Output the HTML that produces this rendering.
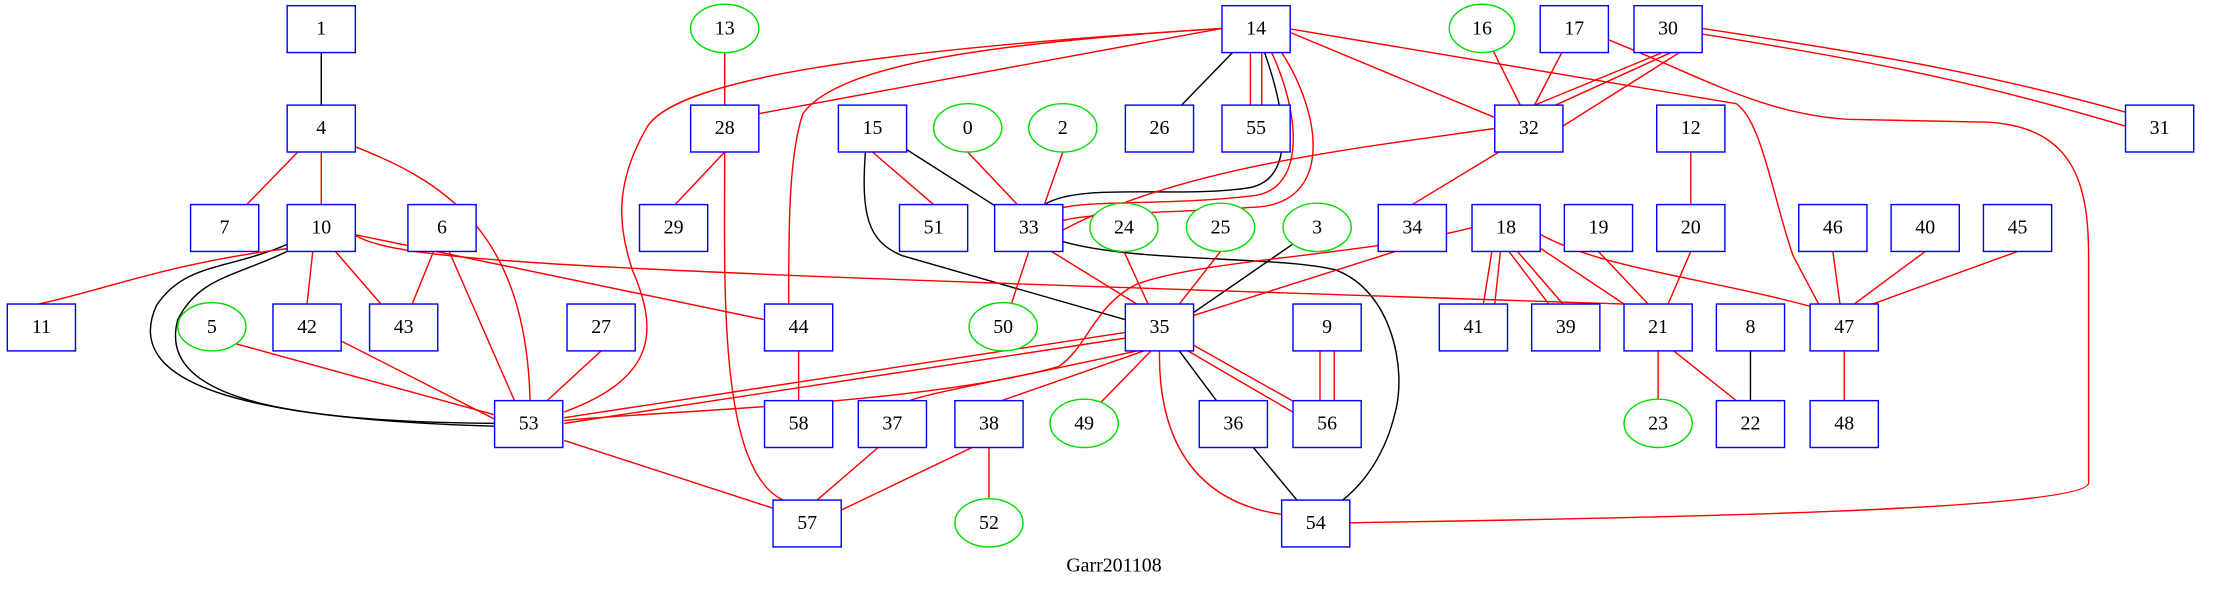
<!DOCTYPE html>
<html><head><meta charset="utf-8"><style>
html,body{margin:0;padding:0;background:#fff;}
svg{display:block}
text{font-family:"Liberation Serif",serif;font-size:14px;fill:#000;text-anchor:middle;dominant-baseline:central}
.b{fill:#fff;stroke:#0000ff;stroke-width:1}
.e{fill:#fff;stroke:#00dd00;stroke-width:1}
.r{fill:none;stroke:#ff0000;stroke-width:1}
.k{fill:none;stroke:#000;stroke-width:1}
</style></head><body>
<svg width="2228" height="591" viewBox="0 0 1568 416" xmlns="http://www.w3.org/2000/svg">
<g class="k">
<path d="M226,20 L226,90"/>
<path d="M884,20 L816,90"/>
<path d="M890,37 C905,80 912,125 880,132 C830,140 760,128 735,144"/>
<path d="M614,90 L724,160"/>
<path d="M609,107 C606,150 610,170 635,180 L792,225"/>
<path d="M748,170 C800,185 900,180 940,190 C980,205 990,260 982,290 C975,320 960,340 945,352"/>
<path d="M927,160 L840,220"/>
<path d="M830,247 L868,298"/>
<path d="M868,298 L926,368"/>
<path d="M1232,230 L1232,298"/>
<path d="M202,172 C160,190 130,185 110,215 C85,270 170,295 348,300"/>
<path d="M204,176 C165,195 140,195 125,225 C110,280 200,297 348,298"/>
</g>
<g class="r">
<path d="M510,20 L510,90"/>
<path d="M226,90 L158,160"/>
<path d="M226,90 L226,160"/>
<path d="M249,103 C320,130 370,170 373,282"/>
<path d="M860,20 L534,80"/>
<path d="M860,20 C620,35 475,55 455,90 C432,130 435,160 445,190 C462,230 465,265 397,290"/>
<path d="M860,20 C700,30 590,45 565,80 C555,110 555,160 555,214"/>
<path d="M880,20 L880,90"/>
<path d="M888,20 L888,90"/>
<path d="M895,37 C915,80 920,135 880,138 C820,145 760,140 742,148"/>
<path d="M902,37 C930,80 940,145 880,146 C820,150 760,150 746,156"/>
<path d="M906,22 L1055,84"/>
<path d="M906,20 L1222,73 C1240,85 1248,140 1262,180 L1280,214"/>
<path d="M1043,20 L1070,74"/>
<path d="M1108,20 L1080,74"/>
<path d="M1170,37 L1080,74"/>
<path d="M1176,37 L1086,78"/>
<path d="M1182,37 L1098,90"/>
<path d="M1198,20 C1330,40 1400,52 1500,80"/>
<path d="M1198,24 C1330,45 1400,60 1500,90"/>
<path d="M1132,28 C1200,55 1240,80 1300,84 L1400,86 C1460,90 1470,130 1470,180 L1470,340 C1470,362 1050,366 950,368"/>
<path d="M510,107 L475,144"/>
<path d="M510,107 C510,200 505,330 551,352"/>
<path d="M614,107 L657,144"/>
<path d="M681,107 L716,144"/>
<path d="M748,107 L735,144"/>
<path d="M1055,90 C950,105 830,118 748,162"/>
<path d="M1055,107 L994,144"/>
<path d="M1190,107 L1190,144"/>
<path d="M202,175 C120,185 70,205 27,214"/>
<path d="M220,177 L216,214"/>
<path d="M236,177 L268,214"/>
<path d="M249,165 L538,225"/>
<path d="M249,165 C280,185 400,190 1143,214"/>
<path d="M305,177 L290,214"/>
<path d="M316,177 L362,282"/>
<path d="M724,177 L712,213"/>
<path d="M740,177 L800,214"/>
<path d="M791,177 L808,214"/>
<path d="M859,177 L830,214"/>
<path d="M982,177 L840,222"/>
<path d="M1037,160 C960,180 850,182 800,200 C770,215 765,245 745,258 C650,285 450,290 397,296"/>
<path d="M1050,177 L1044,214"/>
<path d="M1056,177 L1052,214"/>
<path d="M1062,177 L1090,214"/>
<path d="M1068,177 L1100,214"/>
<path d="M1080,172 L1143,214"/>
<path d="M1084,165 C1130,190 1200,195 1283,218"/>
<path d="M1125,177 L1160,214"/>
<path d="M1190,177 L1174,214"/>
<path d="M1290,177 L1295,214"/>
<path d="M1355,177 L1305,214"/>
<path d="M1420,177 L1318,214"/>
<path d="M1167,247 L1167,281"/>
<path d="M1178,247 L1222,282"/>
<path d="M1298,247 L1298,282"/>
<path d="M166,242 L348,292"/>
<path d="M240,240 L348,295"/>
<path d="M423,247 L385,282"/>
<path d="M562,247 L562,282"/>
<path d="M792,234 L397,294"/>
<path d="M792,238 L397,298"/>
<path d="M800,247 C720,265 660,275 640,282"/>
<path d="M805,247 L705,282"/>
<path d="M810,247 L775,283"/>
<path d="M836,247 L915,293"/>
<path d="M840,243 L920,288"/>
<path d="M816,247 C815,320 850,355 902,362"/>
<path d="M929,247 L929,282"/>
<path d="M939,247 L939,282"/>
<path d="M397,310 L551,360"/>
<path d="M618,315 L575,352"/>
<path d="M684,315 L590,360"/>
<path d="M696,315 L696,351"/>
</g>
<g>
<rect class="b" x="202" y="4" width="48" height="33"/><text x="226" y="20">1</text>
<ellipse class="e" cx="510" cy="20" rx="24" ry="17"/><text x="510" y="20">13</text>
<rect class="b" x="860" y="4" width="48" height="33"/><text x="884" y="20">14</text>
<ellipse class="e" cx="1043" cy="20" rx="23" ry="17"/><text x="1043" y="20">16</text>
<rect class="b" x="1084" y="4" width="48" height="33"/><text x="1108" y="20">17</text>
<rect class="b" x="1150" y="4" width="48" height="33"/><text x="1174" y="20">30</text>

<rect class="b" x="202" y="74" width="48" height="33"/><text x="226" y="90">4</text>
<rect class="b" x="486" y="74" width="48" height="33"/><text x="510" y="90">28</text>
<rect class="b" x="590" y="74" width="48" height="33"/><text x="614" y="90">15</text>
<ellipse class="e" cx="681" cy="90" rx="24" ry="17"/><text x="681" y="90">0</text>
<ellipse class="e" cx="748" cy="90" rx="24" ry="17"/><text x="748" y="90">2</text>
<rect class="b" x="792" y="74" width="48" height="33"/><text x="816" y="90">26</text>
<rect class="b" x="860" y="74" width="48" height="33"/><text x="884" y="90">55</text>
<rect class="b" x="1052" y="74" width="48" height="33"/><text x="1076" y="90">32</text>
<rect class="b" x="1166" y="74" width="48" height="33"/><text x="1190" y="90">12</text>
<rect class="b" x="1496" y="74" width="48" height="33"/><text x="1520" y="90">31</text>

<rect class="b" x="134" y="144" width="48" height="33"/><text x="158" y="160">7</text>
<rect class="b" x="202" y="144" width="48" height="33"/><text x="226" y="160">10</text>
<rect class="b" x="287" y="144" width="48" height="33"/><text x="311" y="160">6</text>
<rect class="b" x="450" y="144" width="48" height="33"/><text x="474" y="160">29</text>
<rect class="b" x="633" y="144" width="48" height="33"/><text x="657" y="160">51</text>
<rect class="b" x="700" y="144" width="48" height="33"/><text x="724" y="160">33</text>
<ellipse class="e" cx="791" cy="160" rx="24" ry="17"/><text x="791" y="160">24</text>
<ellipse class="e" cx="859" cy="160" rx="24" ry="17"/><text x="859" y="160">25</text>
<ellipse class="e" cx="927" cy="160" rx="24" ry="17"/><text x="927" y="160">3</text>
<rect class="b" x="970" y="144" width="48" height="33"/><text x="994" y="160">34</text>
<rect class="b" x="1036" y="144" width="48" height="33"/><text x="1060" y="160">18</text>
<rect class="b" x="1101" y="144" width="48" height="33"/><text x="1125" y="160">19</text>
<rect class="b" x="1166" y="144" width="48" height="33"/><text x="1190" y="160">20</text>
<rect class="b" x="1266" y="144" width="48" height="33"/><text x="1290" y="160">46</text>
<rect class="b" x="1331" y="144" width="48" height="33"/><text x="1355" y="160">40</text>
<rect class="b" x="1396" y="144" width="48" height="33"/><text x="1420" y="160">45</text>

<rect class="b" x="5" y="214" width="48" height="33"/><text x="29" y="230">11</text>
<ellipse class="e" cx="149" cy="230" rx="24" ry="17"/><text x="149" y="230">5</text>
<rect class="b" x="192" y="214" width="48" height="33"/><text x="216" y="230">42</text>
<rect class="b" x="260" y="214" width="48" height="33"/><text x="284" y="230">43</text>
<rect class="b" x="399" y="214" width="48" height="33"/><text x="423" y="230">27</text>
<rect class="b" x="538" y="214" width="48" height="33"/><text x="562" y="230">44</text>
<ellipse class="e" cx="706" cy="230" rx="24" ry="17"/><text x="706" y="230">50</text>
<rect class="b" x="792" y="214" width="48" height="33"/><text x="816" y="230">35</text>
<rect class="b" x="910" y="214" width="48" height="33"/><text x="934" y="230">9</text>
<rect class="b" x="1013" y="214" width="48" height="33"/><text x="1037" y="230">41</text>
<rect class="b" x="1078" y="214" width="48" height="33"/><text x="1102" y="230">39</text>
<rect class="b" x="1143" y="214" width="48" height="33"/><text x="1167" y="230">21</text>
<rect class="b" x="1208" y="214" width="48" height="33"/><text x="1232" y="230">8</text>
<rect class="b" x="1274" y="214" width="48" height="33"/><text x="1298" y="230">47</text>

<rect class="b" x="348" y="282" width="48" height="33"/><text x="372" y="298">53</text>
<rect class="b" x="538" y="282" width="48" height="33"/><text x="562" y="298">58</text>
<rect class="b" x="604" y="282" width="48" height="33"/><text x="628" y="298">37</text>
<rect class="b" x="672" y="282" width="48" height="33"/><text x="696" y="298">38</text>
<ellipse class="e" cx="763" cy="298" rx="24" ry="17"/><text x="763" y="298">49</text>
<rect class="b" x="844" y="282" width="48" height="33"/><text x="868" y="298">36</text>
<rect class="b" x="910" y="282" width="48" height="33"/><text x="934" y="298">56</text>
<ellipse class="e" cx="1167" cy="298" rx="24" ry="17"/><text x="1167" y="298">23</text>
<rect class="b" x="1208" y="282" width="48" height="33"/><text x="1232" y="298">22</text>
<rect class="b" x="1274" y="282" width="48" height="33"/><text x="1298" y="298">48</text>

<rect class="b" x="544" y="352" width="48" height="33"/><text x="568" y="368">57</text>
<ellipse class="e" cx="696" cy="368" rx="24" ry="17"/><text x="696" y="368">52</text>
<rect class="b" x="902" y="352" width="48" height="33"/><text x="926" y="368">54</text>

<text x="784" y="398">Garr201108</text>
</g>
</svg>
</body></html>
